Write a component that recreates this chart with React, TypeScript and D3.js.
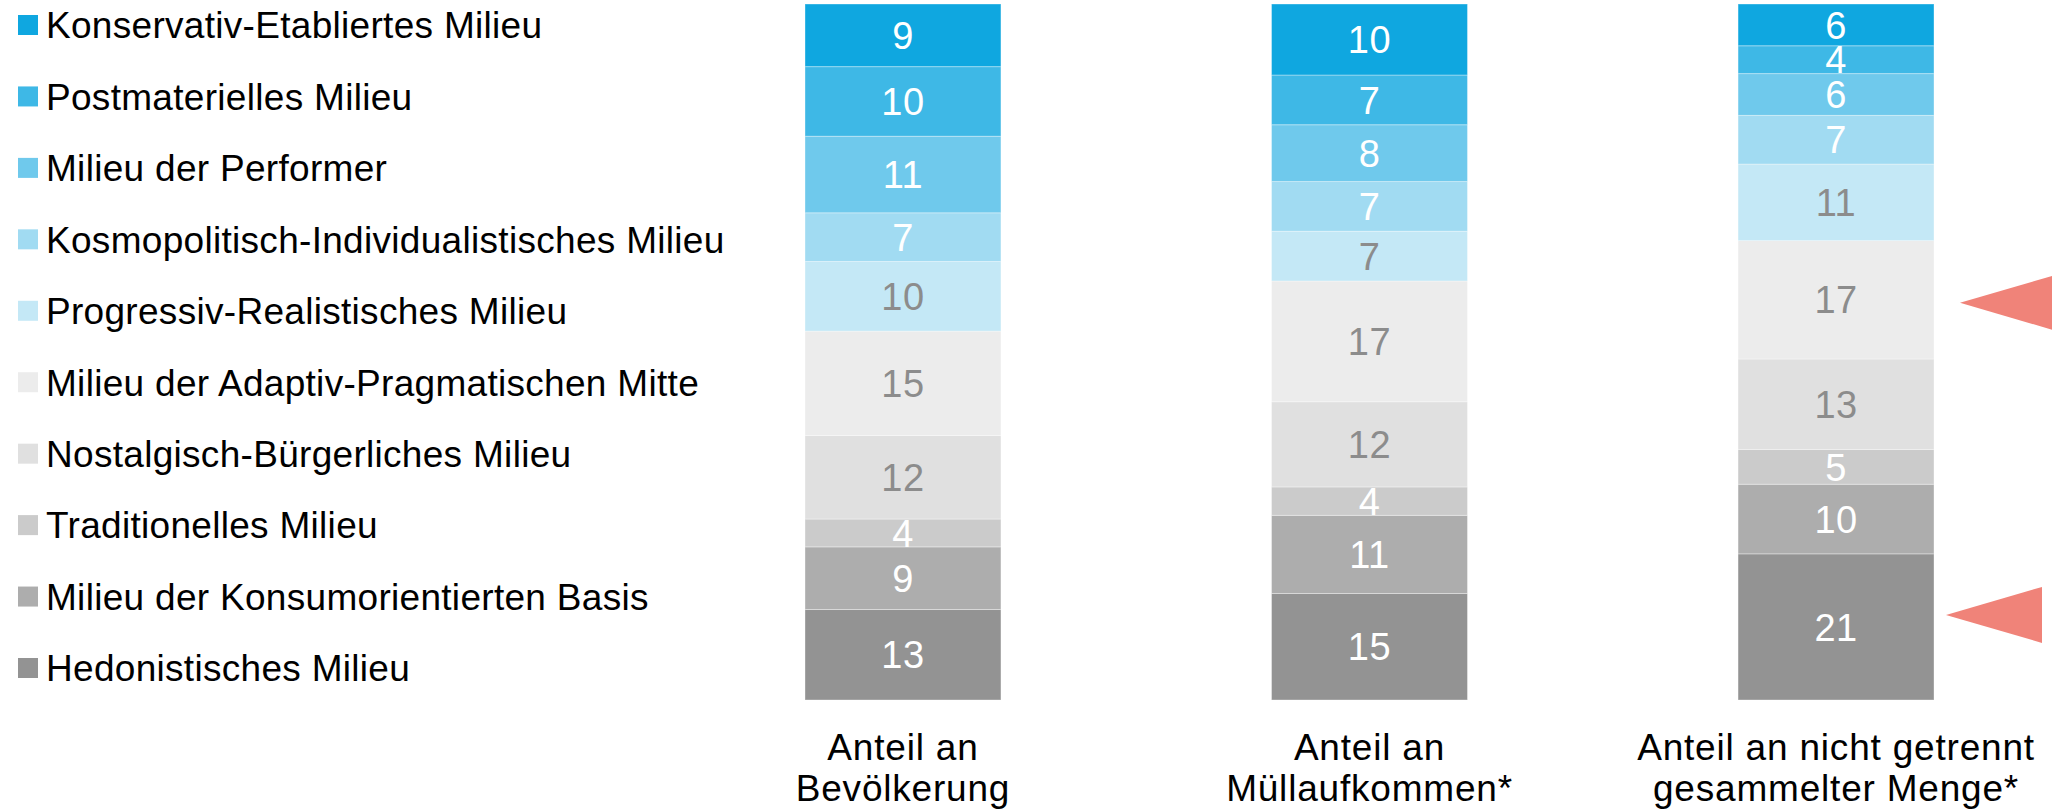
import React from 'react'
import * as d3 from 'd3'

// legend order = top of the stack first
const milieus = [
  'Konservativ-Etabliertes Milieu',
  'Postmaterielles Milieu',
  'Milieu der Performer',
  'Kosmopolitisch-Individualistisches Milieu',
  'Progressiv-Realistisches Milieu',
  'Milieu der Adaptiv-Pragmatischen Mitte',
  'Nostalgisch-Bürgerliches Milieu',
  'Traditionelles Milieu',
  'Milieu der Konsumorientierten Basis',
  'Hedonistisches Milieu',
]

const colors = [
  '#0fa7e0', '#3eb8e6', '#6fc9ec', '#a1dbf2', '#c4e8f6',
  '#ececec', '#e0e0e0', '#cbcbcb', '#adadad', '#939393',
]

// label colour per milieu (grey text on the pale segments)
const labelColors = [
  '#fff', '#fff', '#fff', '#fff', '#8c8c8c',
  '#8c8c8c', '#8c8c8c', '#fff', '#fff', '#fff',
]

const categories = ['bevoelkerung', 'muell', 'nichtGetrennt']
const categoryLabels = [
  ['Anteil an', 'Bevölkerung'],
  ['Anteil an', 'Müllaufkommen*'],
  ['Anteil an nicht getrennt', 'gesammelter Menge*'],
]

const bevoelkerung = [9, 10, 11, 7, 10, 15, 12, 4, 9, 13]
const muell = [10, 7, 8, 7, 7, 17, 12, 4, 11, 15]
const nichtGetrennt = [6, 4, 6, 7, 11, 17, 13, 5, 10, 21]

// milieus marked with an arrow on the last bar
const highlighted = ['Milieu der Adaptiv-Pragmatischen Mitte', 'Hedonistisches Milieu']

const W = 2052
const H = 809
const FONT = '"Liberation Sans", Arial, sans-serif'

export default function App() {
  const series = [bevoelkerung, muell, nichtGetrennt]
  const table = categories.map((c, ci) => {
    const row: any = {cat: c}
    milieus.forEach((m, i) => { row[m] = series[ci][i] })
    return row
  })

  // stack from the bottom: reverse of legend order
  const keys = milieus.slice().reverse()
  const stacked = d3.stack().keys(keys).offset(d3.stackOffsetExpand)(table)

  const x = d3.scaleBand().domain(categories).range([805, 1934]).paddingInner(0.58).paddingOuter(0)
  const y = d3.scaleLinear().domain([0, 1]).range([700, 4])

  const legendY = d3.scalePoint().domain(milieus).range([25, 668])

  const lastCat = categories[categories.length - 1]
  const arrowOffsets = [3, -12]

  return (
    <svg width={W} height={H} style={{position: 'absolute', left: 0, top: 0, background: '#fff'}}
         fontFamily={FONT}>
      {/* legend */}
      {milieus.map((m, i) => (
        <g key={m} transform={`translate(0,${legendY(m)})`}>
          <rect x={18} y={-10} width={20} height={20} fill={colors[i]} />
          <text x={46} y={0} dy="0.36em" fontSize={37} letterSpacing={0.3} fill="#000">{m}</text>
        </g>
      ))}

      {/* stacked bars */}
      {stacked.map(layer => {
        const mi = milieus.indexOf(layer.key)
        return (
          <g key={layer.key}>
            {layer.map((d: any) => (
              <rect key={d.data.cat}
                    x={x(d.data.cat)} width={x.bandwidth()}
                    y={y(d[1])} height={y(d[0]) - y(d[1])}
                    fill={colors[mi]} stroke="#fff" strokeOpacity={0.35} strokeWidth={1} />
            ))}
            {layer.map((d: any) => (
              <text key={'t' + d.data.cat}
                    x={x(d.data.cat)! + x.bandwidth() / 2}
                    y={(y(d[0]) + y(d[1])) / 2} dy="0.36em"
                    textAnchor="middle" fontSize={38} letterSpacing={0.5} fill={labelColors[mi]}>
                {d.data[layer.key]}
              </text>
            ))}
          </g>
        )
      })}

      {/* category labels */}
      {categories.map((c, i) => (
        <text key={c} x={x(c)! + x.bandwidth() / 2} textAnchor="middle" fontSize={37}
              letterSpacing={0.8} fill="#000">
          <tspan x={x(c)! + x.bandwidth() / 2} y={760}>{categoryLabels[i][0]}</tspan>
          <tspan x={x(c)! + x.bandwidth() / 2} y={801}>{categoryLabels[i][1]}</tspan>
        </text>
      ))}

      {/* arrows */}
      {highlighted.map((m, i) => {
        const layer = stacked.find(s => s.key === m)!
        const d: any = layer.find((p: any) => p.data.cat === lastCat)
        const ty = (y(d[0]) + y(d[1])) / 2 + arrowOffsets[i]
        const tx = x(lastCat)! + x.bandwidth() + (i === 0 ? 26 : 12)
        return (
          <path key={m} d={`M${tx},${ty} L${tx + 96},${ty - 28} L${tx + 96},${ty + 28} Z`} fill="#f08379" />
        )
      })}
    </svg>
  )
}
